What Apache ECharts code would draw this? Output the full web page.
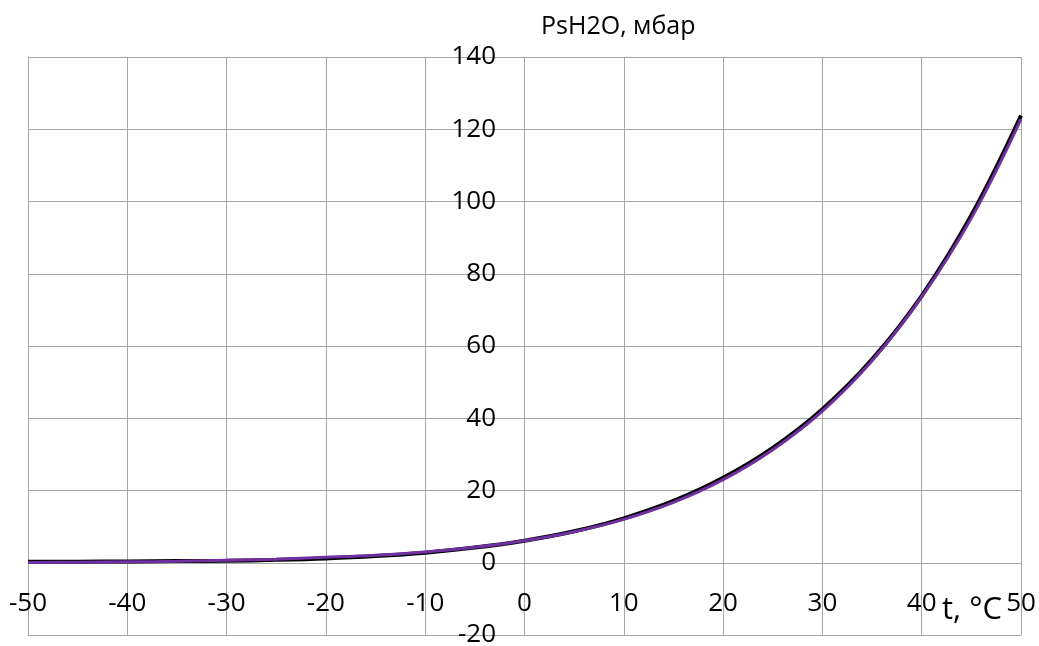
<!DOCTYPE html>
<html>
<head>
<meta charset="utf-8">
<script src="https://cdn.jsdelivr.net/npm/echarts@6/dist/echarts.min.js"></script>
<style>
  html, body { margin: 0; padding: 0; background: #fff; }
  #chart { width: 1039px; height: 646px; }
</style>
</head>
<body>
<div id="chart"></div>
<script>
// temperature, °C
var temps = [-50, -45, -40, -35, -30, -25, -20, -15, -10, -5, 0, 5, 10, 15, 20, 25, 30, 35, 40, 45, 50];
// saturation pressure, mbar
var blackVals = [0.3, 0.3, 0.35, 0.45, 0.55, 0.8, 1.2, 1.85, 2.8, 4.2, 6.1, 8.7, 12.3, 17.1, 23.5, 31.8, 42.5, 56.3, 73.9, 96.2, 123.8];
var purpleVals = [0.1, 0.15, 0.25, 0.4, 0.7, 1.0, 1.5, 2.1, 3.0, 4.3, 6.1, 8.6, 12.0, 16.7, 23.0, 31.3, 42.0, 55.9, 73.6, 95.4, 122.8];

var yTitle = 'PsH2O, мбар';
var xTitle = 't, °C';

function pairs(xs, ys) {
    return xs.map(function (x, i) { return [x, ys[i]]; });
}

var font = '"Open Sans", sans-serif';
var gridColor = '#a6a6a6';

var chart = echarts.init(document.getElementById('chart'));
chart.setOption({
    animation: false,
    textStyle: { fontFamily: font },
    // the axes cross at (0, 0) in the original: labels are pulled inside with negative margins
    grid: { left: 28, right: 18, top: 57, bottom: 11, containLabel: false, outerBoundsMode: 'none' },
    title: {
        text: yTitle,
        left: 536,
        top: 9,
        textStyle: { color: '#000', fontSize: 25, fontWeight: 'normal', fontFamily: font }
    },
    xAxis: {
        type: 'value',
        min: -50, max: 50, interval: 10,
        axisLine: { show: true, onZero: false, lineStyle: { color: gridColor, width: 1 } },
        axisTick: { show: false },
        axisLabel: { show: true, color: '#000', fontSize: 26, fontFamily: font, margin: -31, verticalAlign: 'middle' },
        splitLine: { show: true, lineStyle: { color: gridColor, width: 1 } }
    },
    yAxis: {
        type: 'value',
        min: -20, max: 140, interval: 20,
        axisLine: { show: true, onZero: false, lineStyle: { color: gridColor, width: 1 } },
        axisTick: { show: false },
        axisLabel: { show: true, color: '#000', fontSize: 26, fontFamily: font, margin: -468, align: 'right' },
        splitLine: { show: true, lineStyle: { color: gridColor, width: 1 } }
    },
    graphic: [{
        type: 'text',
        left: 942,
        top: 595,
        style: { text: xTitle, fontSize: 31, fontFamily: font, fill: '#000' }
    }],
    series: [
        {
            type: 'line',
            data: pairs(temps, blackVals),
            smooth: 0.4,
            showSymbol: false,
            lineStyle: { color: '#000', width: 4 },
            z: 2
        },
        {
            type: 'line',
            data: pairs(temps, purpleVals),
            smooth: 0.4,
            showSymbol: false,
            lineStyle: { color: '#7030a0', width: 3 },
            z: 3
        }
    ]
});
</script>
</body>
</html>
